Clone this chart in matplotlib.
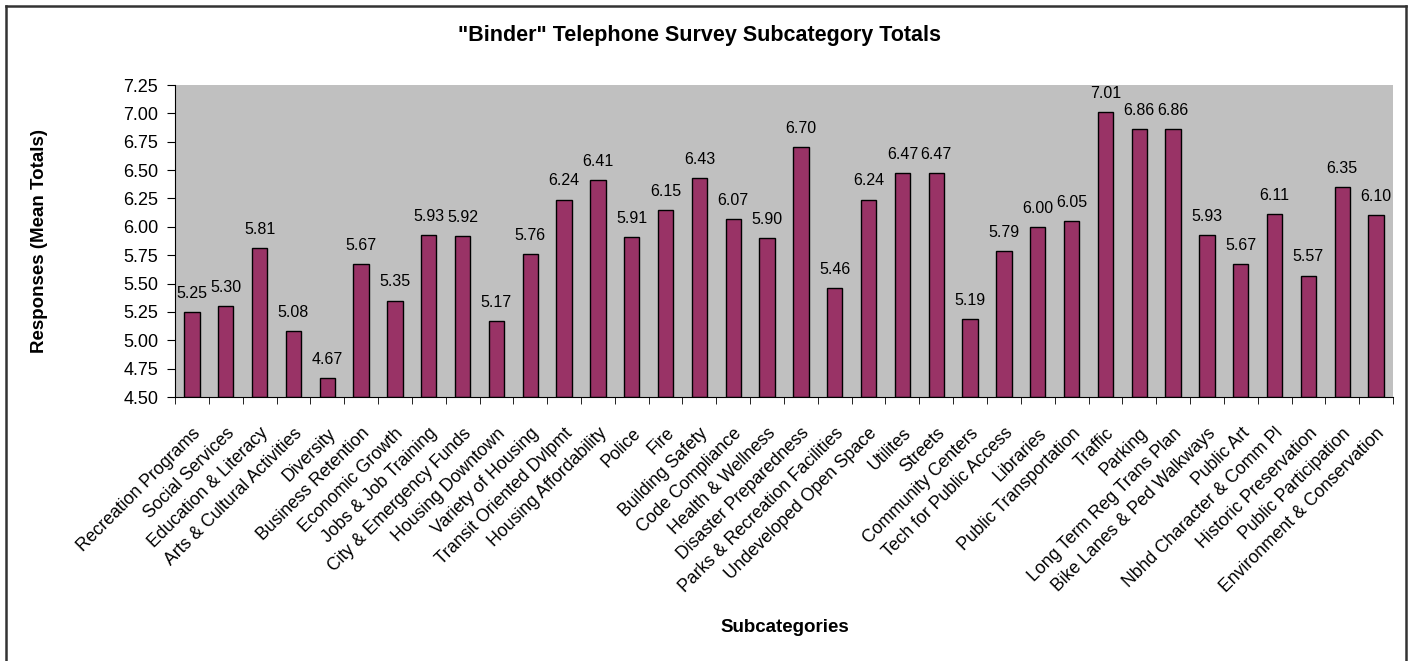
import matplotlib
matplotlib.use("Agg")
import matplotlib.pyplot as plt
from matplotlib.lines import Line2D
from matplotlib.ticker import FixedLocator

# Data
categories = [
    "Recreation Programs", "Social Services", "Education & Literacy",
    "Arts & Cultural Activities", "Diversity", "Business Retention",
    "Economic Growth", "Jobs & Job Training", "City & Emergency Funds",
    "Housing Downtown", "Variety of Housing", "Transit Oriented Dvlpmt",
    "Housing Affordability", "Police", "Fire", "Building Safety",
    "Code Compliance", "Health & Wellness", "Disaster Preparedness",
    "Parks & Recreation Facilities", "Undeveloped Open Space", "Utilites",
    "Streets", "Community Centers", "Tech for Public Access", "Libraries",
    "Public Transportation", "Traffic", "Parking", "Long Term Reg Trans Plan",
    "Bike Lanes & Ped Walkways", "Public Art", "Nbhd Character & Comm Pl",
    "Historic Preservation", "Public Participation", "Environment & Conservation",
]
values = [
    5.25, 5.30, 5.81, 5.08, 4.67, 5.67, 5.35, 5.93, 5.92, 5.17, 5.76, 6.24,
    6.41, 5.91, 6.15, 6.43, 6.07, 5.90, 6.70, 5.46, 6.24, 6.47, 6.47, 5.19,
    5.79, 6.00, 6.05, 7.01, 6.86, 6.86, 5.93, 5.67, 6.11, 5.57, 6.35, 6.10,
]
yticks = [4.50, 4.75, 5.00, 5.25, 5.50, 5.75, 6.00, 6.25, 6.50, 6.75, 7.00, 7.25]

plt.rcParams['font.family'] = ['Liberation Sans', 'DejaVu Sans']

W, H = 1413, 661
fig = plt.figure(figsize=(W / 100, H / 100), dpi=100)
ax = fig.add_axes([175 / W, 1 - 397 / H, (1393 - 175) / W, (397 - 85) / H])

x = list(range(len(categories)))
bottom = yticks[0]
heights = [v - bottom for v in values]
ax.bar(x, heights, bottom=bottom, width=0.45, color='#993366',
       edgecolor='black', linewidth=1, zorder=2)

for xi, v in zip(x, values):
    ax.annotate(f"{v:.2f}", (xi, v), xytext=(0, 8), textcoords='offset points',
                ha='center', va='bottom', fontsize=11.5)

ax.set_facecolor('#C0C0C0')
ax.set_xlim(-0.5, len(categories) - 0.5)
ax.set_ylim(yticks[0], yticks[-1])
ax.set_yticks(yticks)
ax.set_yticklabels([f"{t:.2f}" for t in yticks], fontsize=13)

# category labels at bar centers, tick marks between bars
ax.set_xticks(x)
ax.set_xticklabels(categories, rotation=45, ha='right', va='top',
                   rotation_mode='anchor', fontsize=12.7)
for lbl in ax.get_xticklabels():
    lbl.set_x(lbl.get_position()[0])
ax.tick_params(axis='x', which='major', length=0, pad=20)
ax.xaxis.set_minor_locator(FixedLocator([i - 0.5 for i in range(len(categories) + 1)]))
ax.tick_params(axis='x', which='minor', length=5, direction='out', color='black')
ax.tick_params(axis='y', length=6, direction='out', pad=6)

for side in ['top', 'right']:
    ax.spines[side].set_visible(False)

fig.text(699 / W, 1 - 35 / H,
         '"Binder" Telephone Survey Subcategory Totals',
         ha='center', va='center', fontsize=15.5, fontweight='bold')
fig.text(40 / W, 1 - 241 / H, 'Responses (Mean Totals)', rotation=90,
         ha='center', va='center', fontsize=13.5, fontweight='bold')
fig.text(785 / W, 1 - 628 / H, 'Subcategories',
         ha='center', va='center', fontsize=13.5, fontweight='bold')

# outer chart border (bottom edge falls outside the image)
bx0, bx1, by = 5.5 / W, 1405.5 / W, 1 - 5.5 / H
for xs, ys in [([bx0, bx0], [-0.05, by]), ([bx0, bx1], [by, by]), ([bx1, bx1], [by, -0.05])]:
    fig.lines.append(Line2D(xs, ys, transform=fig.transFigure,
                            color='#333333', linewidth=1.8))

fig.savefig("out.png", dpi=100)
